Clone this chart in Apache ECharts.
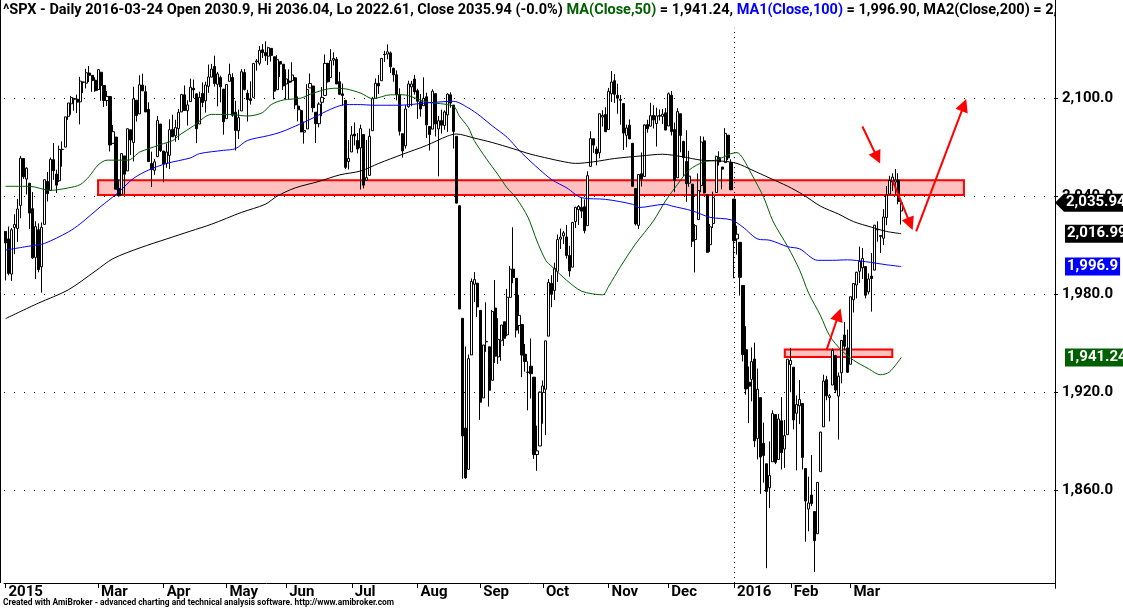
<!DOCTYPE html>
<html>
<head>
<meta charset="utf-8">
<title>^SPX - Daily</title>
<script src="https://cdn.jsdelivr.net/npm/echarts@6/dist/echarts.min.js"></script>
<style>
  html, body { margin: 0; padding: 0; background: #fff; }
  #chart { width: 1123px; height: 609px; }
</style>
</head>
<body>
<div id="chart"></div>
<script>
// trading days on the chart
const dates = [
  '2015-01-14','2015-01-15','2015-01-16','2015-01-20','2015-01-21','2015-01-22','2015-01-23','2015-01-26','2015-01-27','2015-01-28','2015-01-29','2015-01-30',
  '2015-02-02','2015-02-03','2015-02-04','2015-02-05','2015-02-06','2015-02-09','2015-02-10','2015-02-11','2015-02-12','2015-02-13','2015-02-17','2015-02-18','2015-02-19','2015-02-20','2015-02-23','2015-02-24','2015-02-25','2015-02-26','2015-02-27',
  '2015-03-02','2015-03-03','2015-03-04','2015-03-05','2015-03-06','2015-03-09','2015-03-10','2015-03-11','2015-03-12','2015-03-13','2015-03-16','2015-03-17','2015-03-18','2015-03-19','2015-03-20','2015-03-23','2015-03-24','2015-03-25','2015-03-26','2015-03-27','2015-03-30','2015-03-31',
  '2015-04-01','2015-04-02','2015-04-06','2015-04-07','2015-04-08','2015-04-09','2015-04-10','2015-04-13','2015-04-14','2015-04-15','2015-04-16','2015-04-17','2015-04-20','2015-04-21','2015-04-22','2015-04-23','2015-04-24','2015-04-27','2015-04-28','2015-04-29','2015-04-30',
  '2015-05-01','2015-05-04','2015-05-05','2015-05-06','2015-05-07','2015-05-08','2015-05-11','2015-05-12','2015-05-13','2015-05-14','2015-05-15','2015-05-18','2015-05-19','2015-05-20','2015-05-21','2015-05-22','2015-05-26','2015-05-27','2015-05-28','2015-05-29',
  '2015-06-01','2015-06-02','2015-06-03','2015-06-04','2015-06-05','2015-06-08','2015-06-09','2015-06-10','2015-06-11','2015-06-12','2015-06-15','2015-06-16','2015-06-17','2015-06-18','2015-06-19','2015-06-22','2015-06-23','2015-06-24','2015-06-25','2015-06-26','2015-06-29','2015-06-30',
  '2015-07-01','2015-07-02','2015-07-06','2015-07-07','2015-07-08','2015-07-09','2015-07-10','2015-07-13','2015-07-14','2015-07-15','2015-07-16','2015-07-17','2015-07-20','2015-07-21','2015-07-22','2015-07-23','2015-07-24','2015-07-27','2015-07-28','2015-07-29','2015-07-30','2015-07-31',
  '2015-08-03','2015-08-04','2015-08-05','2015-08-06','2015-08-07','2015-08-10','2015-08-11','2015-08-12','2015-08-13','2015-08-14','2015-08-17','2015-08-18','2015-08-19','2015-08-20','2015-08-21','2015-08-24','2015-08-25','2015-08-26','2015-08-27','2015-08-28','2015-08-31',
  '2015-09-01','2015-09-02','2015-09-03','2015-09-04','2015-09-08','2015-09-09','2015-09-10','2015-09-11','2015-09-14','2015-09-15','2015-09-16','2015-09-17','2015-09-18','2015-09-21','2015-09-22','2015-09-23','2015-09-24','2015-09-25','2015-09-28','2015-09-29','2015-09-30',
  '2015-10-01','2015-10-02','2015-10-05','2015-10-06','2015-10-07','2015-10-08','2015-10-09','2015-10-12','2015-10-13','2015-10-14','2015-10-15','2015-10-16','2015-10-19','2015-10-20','2015-10-21','2015-10-22','2015-10-23','2015-10-26','2015-10-27','2015-10-28','2015-10-29','2015-10-30',
  '2015-11-02','2015-11-03','2015-11-04','2015-11-05','2015-11-06','2015-11-09','2015-11-10','2015-11-11','2015-11-12','2015-11-13','2015-11-16','2015-11-17','2015-11-18','2015-11-19','2015-11-20','2015-11-23','2015-11-24','2015-11-25','2015-11-27','2015-11-30',
  '2015-12-01','2015-12-02','2015-12-03','2015-12-04','2015-12-07','2015-12-08','2015-12-09','2015-12-10','2015-12-11','2015-12-14','2015-12-15','2015-12-16','2015-12-17','2015-12-18','2015-12-21','2015-12-22','2015-12-23','2015-12-24','2015-12-28','2015-12-29','2015-12-30','2015-12-31',
  '2016-01-04','2016-01-05','2016-01-06','2016-01-07','2016-01-08','2016-01-11','2016-01-12','2016-01-13','2016-01-14','2016-01-15','2016-01-19','2016-01-20','2016-01-21','2016-01-22','2016-01-25','2016-01-26','2016-01-27','2016-01-28','2016-01-29',
  '2016-02-01','2016-02-02','2016-02-03','2016-02-04','2016-02-05','2016-02-08','2016-02-09','2016-02-10','2016-02-11','2016-02-12','2016-02-16','2016-02-17','2016-02-18','2016-02-19','2016-02-22','2016-02-23','2016-02-24','2016-02-25','2016-02-26','2016-02-29',
  '2016-03-01','2016-03-02','2016-03-03','2016-03-04','2016-03-07','2016-03-08','2016-03-09','2016-03-10','2016-03-11','2016-03-14','2016-03-15','2016-03-16','2016-03-17','2016-03-18','2016-03-21','2016-03-22','2016-03-23','2016-03-24'
];

// [open, high, low, close] for each day above
const ohlc = [
  // Jan 2015
  [2018.4,2018.4,1988.4,2011.3],[2013.8,2021.4,1991.5,1992.7],[1992.3,2020.5,1988.1,2019.4],[2020.8,2028.9,2004.5,2022.6],[2020.2,2038.3,2012.0,2032.1],[2034.3,2064.6,2026.4,2063.2],
  [2063.0,2063.0,2050.5,2051.8],[2050.4,2057.6,2041.0,2057.1],[2047.9,2047.9,2019.9,2029.6],[2032.3,2042.5,2001.5,2002.2],[2002.5,2024.6,1989.2,2021.3],[2019.4,2023.3,1993.4,1995.0],
  // Feb
  [1996.7,2023.9,1980.9,2020.9],[2022.7,2050.3,2022.7,2050.0],[2048.9,2054.7,2036.7,2041.5],[2043.5,2063.6,2043.5,2062.5],[2062.3,2072.4,2050.0,2055.5],[2053.5,2056.2,2041.9,2046.7],
  [2049.4,2070.9,2048.6,2068.6],[2068.6,2073.5,2058.0,2068.5],[2070.0,2088.5,2070.0,2088.5],[2088.8,2097.0,2086.7,2097.0],[2096.5,2101.3,2089.8,2100.3],[2099.2,2100.2,2092.2,2099.7],
  [2099.3,2102.1,2090.8,2097.5],[2097.7,2113.0,2083.9,2110.3],[2109.8,2110.1,2103.0,2109.7],[2109.1,2117.9,2105.9,2115.5],[2115.3,2119.6,2109.9,2113.9],[2113.9,2113.9,2103.8,2110.7],
  [2110.9,2112.7,2103.8,2104.5],
  // Mar
  [2105.2,2117.5,2104.5,2117.4],[2115.8,2115.8,2098.3,2107.8],[2107.7,2107.7,2094.5,2098.5],[2098.5,2104.3,2095.2,2101.0],[2100.9,2100.9,2067.3,2071.3],[2072.3,2083.5,2072.2,2079.4],
  [2076.1,2076.1,2044.2,2044.2],[2044.7,2050.1,2039.7,2040.2],[2041.1,2066.4,2041.1,2066.0],[2064.6,2064.6,2041.2,2053.4],[2055.4,2081.4,2055.4,2081.2],[2080.6,2080.6,2065.1,2074.3],
  [2072.8,2106.9,2061.2,2099.5],[2098.7,2098.7,2085.6,2089.3],[2090.3,2113.9,2090.3,2108.1],[2108.0,2114.9,2104.4,2104.4],[2103.9,2107.6,2091.5,2091.5],[2093.1,2097.4,2061.1,2061.1],
  [2059.9,2067.2,2045.5,2056.2],[2055.8,2062.8,2053.0,2061.0],[2064.1,2089.0,2064.1,2086.2],[2084.1,2084.1,2067.0,2067.9],
  // Apr
  [2067.6,2067.6,2048.4,2059.7],[2060.0,2072.2,2057.3,2067.0],[2064.9,2087.0,2056.5,2080.6],[2080.8,2089.8,2076.1,2076.3],[2076.9,2086.7,2073.3,2081.9],[2081.3,2093.3,2074.3,2091.2],
  [2091.5,2102.6,2091.5,2102.1],[2102.0,2107.7,2092.3,2092.4],[2092.3,2098.6,2083.2,2095.8],[2097.8,2111.9,2097.8,2106.6],[2106.0,2111.3,2100.0,2105.0],[2102.6,2102.6,2072.4,2081.2],
  [2084.1,2103.9,2084.1,2100.4],[2102.8,2109.6,2094.4,2097.3],[2098.3,2110.0,2091.1,2108.0],[2107.2,2120.5,2103.2,2112.9],[2112.8,2120.9,2112.8,2117.7],[2119.3,2125.9,2107.0,2108.9],
  [2108.4,2116.0,2094.9,2114.8],[2112.5,2113.7,2097.4,2106.9],[2105.5,2105.5,2077.6,2085.5],
  // May
  [2087.4,2108.4,2087.4,2108.3],[2110.2,2121.0,2110.2,2114.5],[2112.6,2115.2,2088.5,2089.5],[2091.3,2098.4,2067.9,2080.2],[2080.0,2092.9,2075.0,2088.0],[2092.1,2117.7,2092.1,2116.1],
  [2115.6,2117.7,2104.6,2105.3],[2102.9,2105.1,2085.6,2099.1],[2099.6,2110.2,2096.0,2098.5],[2100.4,2121.5,2100.4,2121.1],[2122.1,2123.9,2116.8,2122.7],[2121.3,2131.8,2120.0,2129.2],
  [2129.5,2133.0,2124.5,2127.8],[2127.8,2134.7,2122.6,2125.9],[2125.6,2131.4,2120.2,2130.8],[2130.4,2130.4,2122.3,2126.1],[2125.3,2125.3,2099.2,2104.2],[2105.1,2126.2,2105.1,2123.5],
  [2122.3,2122.3,2112.9,2120.8],[2120.7,2120.7,2104.9,2107.4],
  // Jun
  [2108.6,2117.6,2099.1,2111.7],[2110.4,2117.6,2099.1,2109.6],[2110.6,2121.9,2109.6,2114.1],[2112.4,2112.9,2093.2,2095.8],[2095.1,2101.0,2085.7,2092.8],[2092.3,2093.0,2079.1,2079.3],
  [2079.1,2085.6,2072.1,2080.2],[2081.1,2108.5,2081.1,2105.2],[2106.2,2115.0,2106.2,2108.9],[2107.4,2107.4,2091.3,2094.1],[2091.3,2091.3,2072.5,2084.4],[2084.3,2097.4,2082.1,2096.3],
  [2097.4,2106.8,2088.9,2100.4],[2101.6,2126.7,2101.6,2121.2],[2121.1,2121.6,2109.5,2110.0],[2112.5,2129.9,2112.5,2122.9],[2123.2,2128.0,2119.9,2124.2],[2123.7,2125.1,2108.6,2108.6],
  [2110.0,2116.0,2101.8,2102.3],[2102.6,2108.9,2095.4,2101.5],[2098.6,2098.6,2056.6,2057.6],[2061.2,2074.3,2056.3,2063.1],
  // Jul
  [2067.0,2082.8,2067.0,2077.4],[2078.0,2085.1,2071.0,2076.8],[2074.0,2078.6,2066.1,2068.8],[2069.5,2083.7,2044.0,2081.3],[2077.7,2077.7,2044.7,2046.7],[2049.7,2074.3,2049.7,2051.3],
  [2052.7,2081.3,2052.7,2076.6],[2080.0,2100.7,2080.0,2099.6],[2099.7,2112.0,2099.7,2109.0],[2109.0,2114.1,2102.5,2107.4],[2110.6,2124.4,2110.6,2124.3],[2126.8,2128.9,2122.1,2126.6],
  [2126.9,2132.8,2123.7,2128.3],[2127.6,2128.5,2115.4,2119.2],[2118.2,2118.5,2110.0,2114.2],[2114.2,2116.9,2098.6,2102.2],[2102.2,2106.0,2077.1,2079.7],[2078.2,2078.2,2063.5,2067.6],
  [2070.8,2095.6,2069.1,2093.3],[2094.7,2110.6,2094.1,2108.6],[2106.8,2110.5,2095.0,2108.6],[2111.6,2114.2,2102.1,2103.8],
  // Aug
  [2104.5,2105.7,2087.3,2098.0],[2097.7,2102.5,2088.6,2093.3],[2095.3,2112.7,2095.3,2099.8],[2100.8,2103.3,2075.5,2083.6],[2082.6,2082.6,2067.9,2077.6],[2081.0,2105.4,2081.0,2104.2],
  [2102.7,2102.7,2076.5,2084.1],[2081.1,2089.1,2052.1,2086.1],[2086.2,2092.9,2078.3,2083.4],[2083.2,2092.5,2080.6,2091.5],[2089.7,2102.9,2079.3,2102.4],[2102.0,2103.5,2094.1,2096.9],
  [2095.7,2095.7,2069.1,2079.6],[2076.6,2076.6,2035.7,2035.7],[2034.1,2034.1,1970.9,1970.9],[1965.2,1965.2,1867.0,1893.2],[1898.1,1948.0,1867.1,1867.6],[1872.8,1943.1,1872.8,1940.5],
  [1942.8,1989.6,1942.8,1987.7],[1986.1,1993.5,1975.2,1988.9],[1986.7,1986.7,1966.0,1972.2],
  // Sep
  [1970.1,1970.1,1903.1,1913.9],[1916.5,1948.9,1916.5,1948.9],[1950.8,1975.0,1944.7,1951.1],[1947.8,1947.8,1911.2,1921.2],[1927.3,1970.4,1927.3,1969.4],[1971.5,1988.6,1937.9,1942.0],
  [1941.6,1965.3,1937.2,1952.3],[1951.5,1961.1,1939.2,1961.1],[1963.1,1963.1,1948.3,1953.0],[1955.1,1983.2,1954.3,1978.1],[1978.0,1997.3,1977.9,1995.3],[1995.3,2020.9,1986.7,1990.2],
  [1989.7,1989.7,1953.5,1958.0],[1960.8,1979.6,1955.8,1967.0],[1961.4,1961.4,1929.2,1942.7],[1943.2,1949.5,1932.6,1938.8],[1932.2,1938.9,1908.9,1932.2],[1935.9,1952.9,1916.2,1931.3],
  [1929.2,1929.2,1879.2,1881.8],[1881.9,1899.5,1871.9,1884.1],[1887.1,1920.5,1887.1,1920.0],
  // Oct
  [1919.7,1927.2,1900.7,1923.8],[1921.8,1951.4,1893.7,1951.4],[1954.3,1989.2,1954.3,1987.1],[1986.6,1991.6,1972.0,1979.9],[1982.3,1999.3,1976.4,1995.8],[1994.0,2016.5,1987.5,2013.4],
  [2013.7,2020.1,2007.6,2014.9],[2015.7,2018.7,2010.6,2017.5],[2015.0,2022.3,2001.8,2003.7],[2003.7,2009.6,1990.7,1994.2],[1996.5,2024.2,1996.5,2023.9],[2024.4,2033.5,2020.5,2033.1],
  [2031.7,2034.5,2022.3,2033.7],[2033.1,2039.1,2026.6,2030.8],[2033.5,2038.0,2017.2,2018.9],[2021.9,2055.2,2021.9,2052.5],[2058.2,2079.7,2058.2,2075.2],[2075.1,2075.1,2066.5,2071.2],
  [2068.8,2070.4,2058.8,2065.9],[2066.5,2090.4,2063.1,2090.4],[2088.4,2092.5,2082.6,2089.4],[2090.0,2094.3,2079.3,2079.4],
  // Nov
  [2080.8,2106.2,2080.8,2104.1],[2102.6,2116.5,2097.5,2109.8],[2110.6,2114.6,2097.0,2102.3],[2101.7,2108.8,2090.4,2099.9],[2098.6,2101.9,2083.7,2099.2],[2096.6,2096.6,2068.2,2078.6],
  [2077.2,2083.7,2069.9,2081.7],[2083.4,2086.9,2074.9,2075.0],[2072.3,2072.3,2045.7,2046.0],[2044.6,2044.6,2022.0,2023.0],[2022.1,2053.2,2019.9,2053.2],[2053.7,2066.7,2045.9,2050.4],
  [2052.0,2083.3,2052.0,2083.6],[2083.7,2086.7,2078.8,2081.2],[2082.8,2097.1,2082.8,2089.2],[2089.4,2095.6,2081.4,2086.6],[2084.4,2094.1,2070.3,2089.1],[2089.3,2093.0,2086.3,2088.9],
  [2088.8,2093.3,2084.1,2090.1],[2091.0,2093.8,2080.4,2080.4],
  // Dec
  [2082.9,2103.4,2082.9,2102.6],[2101.7,2104.3,2077.1,2079.5],[2080.7,2085.0,2042.4,2049.6],[2051.2,2093.8,2051.2,2091.7],[2090.4,2090.4,2066.8,2077.1],[2073.4,2073.9,2052.3,2063.6],
  [2061.2,2080.3,2036.5,2047.6],[2047.9,2067.7,2045.7,2052.2],[2047.3,2047.3,2008.8,2012.4],[2013.4,2022.9,1993.3,2021.9],[2025.6,2053.9,2025.6,2043.4],[2046.5,2076.7,2042.4,2073.1],
  [2073.8,2076.4,2041.7,2041.9],[2040.8,2040.8,2005.3,2005.6],[2010.3,2022.9,2005.9,2021.2],[2023.2,2042.7,2020.5,2039.0],[2042.2,2064.7,2042.2,2064.3],[2063.5,2067.4,2058.7,2061.0],
  [2057.8,2057.8,2044.2,2056.5],[2060.5,2081.6,2060.5,2078.4],[2077.3,2077.3,2062.0,2063.4],[2060.6,2062.5,2043.6,2043.9],
  // Jan 2016
  [2038.2,2038.2,1989.7,2012.7],[2013.8,2021.9,2004.2,2016.7],[2011.7,2011.7,1979.1,1990.3],[1985.3,1985.3,1938.8,1943.1],[1946.0,1960.4,1918.5,1922.0],[1926.1,1935.7,1901.1,1923.7],
  [1927.8,1947.4,1914.4,1938.7],[1940.3,1950.3,1886.4,1890.3],[1891.7,1934.5,1878.9,1921.8],[1916.7,1916.7,1857.8,1880.3],[1888.7,1901.4,1864.6,1881.3],[1876.2,1876.2,1812.3,1859.3],
  [1861.5,1889.9,1849.0,1869.0],[1877.4,1908.9,1877.4,1906.9],[1906.3,1906.3,1876.0,1877.1],[1878.8,1906.7,1878.8,1903.6],[1902.5,1917.0,1872.7,1883.0],[1885.2,1903.0,1873.7,1893.4],
  [1894.0,1940.2,1894.0,1940.2],
  // Feb 2016
  [1936.9,1947.2,1920.0,1939.4],[1935.3,1935.3,1897.3,1903.0],[1907.1,1918.0,1872.2,1912.5],[1911.7,1927.4,1900.5,1915.5],[1913.1,1913.1,1872.7,1880.1],[1873.3,1873.3,1828.5,1853.4],
  [1848.5,1868.3,1834.9,1852.2],[1857.1,1881.6,1850.3,1851.9],[1847.0,1847.0,1810.1,1829.1],[1833.4,1864.8,1833.4,1864.8],[1871.4,1895.8,1871.4,1895.6],[1898.8,1930.7,1898.8,1926.8],
  [1927.6,1930.0,1915.1,1917.8],[1916.7,1918.8,1902.2,1917.8],[1924.4,1946.7,1924.4,1945.5],[1942.4,1942.4,1919.4,1921.3],[1917.6,1932.1,1891.0,1929.8],[1931.9,1951.8,1925.4,1951.7],
  [1955.0,1963.0,1945.8,1948.1],[1947.1,1958.3,1931.8,1932.2],
  // Mar 2016
  [1937.1,1978.4,1937.1,1978.4],[1976.6,1986.5,1968.8,1986.5],[1985.6,1993.7,1977.4,1993.4],[1994.0,2009.1,1986.8,2000.0],[1996.1,2008.2,1989.3,2001.8],[1996.9,1996.9,1977.4,1979.3],
  [1981.4,1992.7,1979.8,1989.3],[1991.0,2005.1,1969.3,1989.6],[1994.7,2022.4,1994.7,2022.2],[2019.3,2024.6,2012.1,2019.6],[2015.3,2015.9,2005.2,2015.9],[2014.2,2032.0,2010.0,2027.2],
  [2026.9,2046.2,2022.2,2040.6],[2041.2,2052.4,2041.2,2049.6],[2048.6,2053.9,2043.1,2051.6],[2048.6,2056.6,2040.6,2049.8],[2049.8,2054.0,2035.0,2036.71],[2030.9,2036.04,2022.61,2035.94]
];

// moving averages, [date, value]
const ma50 = [
  ['2015-01-14',2046],['2015-01-27',2046],['2015-02-05',2043.5],['2015-02-13',2045],['2015-02-20',2047],['2015-02-25',2052],
  ['2015-03-02',2059],['2015-03-05',2062],['2015-03-16',2062],['2015-03-20',2067],['2015-03-25',2069],['2015-03-31',2071.6],
  ['2015-04-07',2074],['2015-04-09',2077],['2015-04-16',2083],['2015-04-24',2090],['2015-05-04',2090],['2015-05-12',2089],
  ['2015-05-19',2091],['2015-05-22',2096],['2015-05-29',2098.8],['2015-06-08',2100],['2015-06-12',2103],['2015-06-23',2106],
  ['2015-06-29',2105.6],['2015-07-07',2103],['2015-07-13',2099.6],['2015-07-21',2102],['2015-07-27',2102],['2015-08-06',2097.6],
  ['2015-08-19',2095],['2015-08-21',2089],['2015-08-26',2082],['2015-08-28',2074],['2015-09-03',2063],['2015-09-10',2053],
  ['2015-09-15',2045],['2015-09-18',2039],['2015-09-24',2027],['2015-09-29',2012.5],['2015-10-02',2000.5],['2015-10-06',1996.9],
  ['2015-10-13',1988.4],['2015-10-20',1981.8],['2015-10-29',1979.6],['2015-11-02',1984.8],['2015-11-06',1996.9],['2015-11-13',2010.7],
  ['2015-11-23',2024.8],['2015-11-30',2036.9],['2015-12-04',2047],['2015-12-10',2056],['2015-12-17',2061],['2015-12-23',2062],
  ['2015-12-31',2066],['2016-01-05',2066.6],['2016-01-07',2063],['2016-01-12',2053],['2016-01-19',2039],['2016-01-22',2024.8],
  ['2016-01-29',2009],['2016-02-04',1994.6],['2016-02-09',1980.6],['2016-02-16',1966.7],['2016-02-19',1954.6],['2016-02-25',1945.6],
  ['2016-03-02',1939.6],['2016-03-09',1934.4],['2016-03-15',1930.7],['2016-03-18',1932.3],['2016-03-24',1941.24]
];
const ma100 = [
  ['2015-01-14',2007],['2015-01-28',2009.7],['2015-02-03',2011],['2015-02-13',2018],['2015-02-20',2023],['2015-03-03',2033.8],
  ['2015-03-10',2041],['2015-03-18',2051],['2015-03-25',2056],['2015-04-02',2060],['2015-04-15',2063.4],['2015-04-20',2066],
  ['2015-04-30',2068],['2015-05-06',2069],['2015-05-12',2074],['2015-05-21',2077],['2015-05-28',2079],['2015-06-03',2082],
  ['2015-06-10',2086],['2015-06-16',2089.7],['2015-06-23',2094],['2015-06-29',2096],['2015-07-07',2096],['2015-07-13',2095.6],
  ['2015-07-24',2095.6],['2015-08-06',2097],['2015-08-19',2098],['2015-08-26',2094],['2015-09-01',2089],['2015-09-08',2083],
  ['2015-09-15',2076],['2015-09-21',2068],['2015-09-25',2061],['2015-09-30',2056],['2015-10-06',2050],['2015-10-13',2045],
  ['2015-10-20',2039],['2015-10-30',2038],['2015-11-12',2035],['2015-11-16',2033],['2015-11-30',2035],['2015-12-02',2034],
  ['2015-12-11',2031],['2015-12-21',2027],['2015-12-31',2025.5],['2016-01-07',2021],['2016-01-14',2013.7],['2016-01-21',2013],
  ['2016-01-29',2009],['2016-02-04',2007.7],['2016-02-12',2000.7],['2016-02-22',2000.7],['2016-02-29',2001],['2016-03-08',1999.9],
  ['2016-03-17',1998],['2016-03-24',1996.9]
];
const ma200 = [
  ['2015-01-14',1965],['2015-01-30',1974.5],['2015-02-13',1982.6],['2015-02-27',1994],['2015-03-09',2001.7],['2015-03-20',2008.3],
  ['2015-04-02',2013.8],['2015-04-15',2018.6],['2015-04-24',2022.8],['2015-05-08',2030],['2015-05-20',2035],['2015-05-27',2040],
  ['2015-06-04',2045],['2015-06-16',2049],['2015-06-25',2053],['2015-07-07',2055.4],['2015-07-15',2060],['2015-07-27',2065.6],
  ['2015-08-06',2071],['2015-08-17',2076.7],['2015-08-20',2078],['2015-08-28',2075.5],['2015-09-08',2072.8],['2015-09-17',2069],
  ['2015-09-25',2065.6],['2015-10-05',2063],['2015-10-09',2061.4],['2015-10-16',2060],['2015-10-26',2061],['2015-11-04',2063],
  ['2015-11-17',2064.6],['2015-11-27',2065.6],['2015-12-08',2064],['2015-12-16',2062],['2015-12-28',2061.4],['2016-01-05',2060],
  ['2016-01-12',2056],['2016-01-21',2051],['2016-01-29',2046],['2016-02-05',2041],['2016-02-16',2033.8],['2016-02-24',2029],
  ['2016-03-02',2024.4],['2016-03-10',2021],['2016-03-17',2018.4],['2016-03-24',2016.99]
];

const monthNames = ['Jan','Feb','Mar','Apr','May','Jun','Jul','Aug','Sep','Oct','Nov','Dec'];

// drawn annotations (category index, price)
const zones = [[31, 321, 2040.6, 2049.7], [261, 297, 1941.5, 1946.1]];
const arrows = [
  [[287, 2082.6], [292, 2063.5]],
  [[297, 2050.0], [303, 2023.0]],
  [[305, 2018.4], [321, 2095.7]],
  [[275, 1945.9], [279, 1967.4]]
];
const yearStart = 244;

const FONT = 'Roboto, "DejaVu Sans", sans-serif';
const GREEN = '#005f00';
const BLUE = '#0000ff';

// empty slots to the right of the last bar
const categories = dates.slice();
for (let i = 1; i <= 51; i++) categories.push('pad' + i);

// month starts that get a label (a label too close to the previous one is skipped)
const labelSet = {};
let lastLabel = -100;
dates.forEach((d, i) => {
  const start = i === 0 || d.slice(0, 7) !== dates[i - 1].slice(0, 7);
  if (start && i - lastLabel >= 15) {
    labelSet[i] = true;
    lastLabel = i;
  }
});
const isLabelled = index => !!labelSet[index];

function monthLabel(value, index) {
  if (value.indexOf('pad') === 0) return '';
  const m = +value.slice(5, 7);
  if (m === 1 || index === 0) return value.slice(0, 4);
  return monthNames[m - 1];
}

const candleData = ohlc.map(r => [r[0], r[3], r[2], r[1]]);

const chart = echarts.init(document.getElementById('chart'));

const option = {
  animation: false,
  backgroundColor: '#fff',
  grid: { left: 4, right: 68, top: -6.9, bottom: 20.7 },
  xAxis: {
    type: 'category',
    data: categories,
    boundaryGap: true,
    offset: -5.3,
    axisLine: { lineStyle: { color: '#000', width: 1 } },
    axisTick: { show: true, interval: isLabelled, alignWithLabel: true, length: 5, lineStyle: { color: '#000' } },
    axisLabel: {
      interval: isLabelled,
      formatter: monthLabel,
      align: 'left',
      padding: [0, 0, 0, 3],
      margin: 2,
      color: '#000',
      fontFamily: FONT,
      fontWeight: 'bold',
      fontSize: 15
    },
    splitLine: { show: false }
  },
  yAxis: {
    type: 'value',
    position: 'right',
    min: 1800,
    max: 2160,
    interval: 60,
    axisLine: { show: true, lineStyle: { color: '#000', width: 1 } },
    axisTick: { show: true, length: 3, lineStyle: { color: '#000' } },
    axisLabel: {
      showMinLabel: false,
      showMaxLabel: false,
      margin: 7,
      color: '#000',
      fontFamily: FONT,
      fontWeight: 'bold',
      fontSize: 15,
      formatter: v => v.toLocaleString('en-US', { minimumFractionDigits: 1, maximumFractionDigits: 1 })
    },
    splitLine: {
      show: true,
      showMinLine: false,
      showMaxLine: false,
      lineStyle: { color: '#000', width: 1, type: [1, 9] }
    }
  },
  series: [
    {
      name: '^SPX',
      type: 'candlestick',
      data: candleData,
      barWidth: 2.6,
      itemStyle: {
        color: '#ffffff',
        color0: '#000000',
        borderColor: '#000000',
        borderColor0: '#000000',
        borderWidth: 1
      },
      markArea: {
        silent: true,
        itemStyle: { color: '#ffc0c0', borderColor: '#ff0000', borderWidth: 2 },
        data: zones.map(z => [{ coord: [z[0], z[3]] }, { coord: [z[1], z[2]] }])
      },
      markLine: {
        silent: true,
        animation: false,
        label: { show: false },
        data: [
          [
            { coord: [yearStart, 1803.2], symbol: 'none', lineStyle: { color: '#000', width: 1, type: [1, 4] } },
            { coord: [yearStart, 2143], symbol: 'none' }
          ]
        ].concat(arrows.map(a => [
          { coord: a[0], symbol: 'none', lineStyle: { color: '#ff0000', width: 2, type: 'solid' } },
          { coord: a[1], symbol: 'triangle', symbolSize: 13 }
        ]))
      }
    },
    {
      name: 'MA(Close,50)', type: 'line', data: ma50, symbol: 'none', smooth: 0.3,
      lineStyle: { color: GREEN, width: 1 }, z: 3
    },
    {
      name: 'MA1(Close,100)', type: 'line', data: ma100, symbol: 'none', smooth: 0.3,
      lineStyle: { color: BLUE, width: 1 }, z: 3
    },
    {
      name: 'MA2(Close,200)', type: 'line', data: ma200, symbol: 'none', smooth: 0.3,
      lineStyle: { color: '#000', width: 1 }, z: 3
    }
  ]
};

chart.setOption(option);

// header, footer and value tags
const last = ohlc[ohlc.length - 1];
const prevClose = ohlc[ohlc.length - 2][3];
const chg = ((last[3] - prevClose) / prevClose * 100).toFixed(1);
const fmt2 = v => v.toLocaleString('en-US', { minimumFractionDigits: 2, maximumFractionDigits: 2 });
const fmtTag = v => v.toLocaleString('en-US', { maximumFractionDigits: 2 });
const m50 = ma50[ma50.length - 1][1];
const m100 = ma100[ma100.length - 1][1];
const m200 = ma200[ma200.length - 1][1];

const header = '{k|^SPX - Daily ' + dates[dates.length - 1] + ' Open ' + last[0] + ', Hi ' + last[1] +
  ', Lo ' + last[2] + ', Close ' + last[3] + ' (' + chg + '%) }' +
  '{g|MA(Close,50)}{k| = ' + fmt2(m50) + ', }' +
  '{b|MA1(Close,100)}{k| = ' + fmt2(m100) + ', MA2(Close,200) = ' + fmt2(m200) + '}';

function tag(value, color, arrow) {
  const y = chart.convertToPixel({ yAxisIndex: 0 }, value);
  const out = [];
  if (arrow) {
    out.push({
      type: 'polygon', z: 100,
      shape: { points: [[1055, y], [1064, y - 9], [1125, y - 9], [1125, y + 9], [1064, y + 9]] },
      style: { fill: color }
    });
  }
  out.push({
    type: 'text', z: 101, x: arrow ? 1064 : 1065, y: y,
    style: {
      text: fmtTag(value), fill: '#fff', font: 'bold 15px ' + FONT, verticalAlign: 'middle',
      backgroundColor: arrow ? 'transparent' : color, padding: [2, 2, 1, 2]
    }
  });
  return out;
}

const HFONT = 'bold 14.5px ' + FONT;
const graphics = [
  { type: 'line', z: 50, shape: { x1: 0.5, y1: 0, x2: 0.5, y2: 583 }, style: { stroke: '#000', lineWidth: 1 } },
  {
    type: 'text', z: 60, x: 3, y: 3,
    style: {
      text: header, font: HFONT, verticalAlign: 'top',
      rich: {
        k: { fill: '#000', font: HFONT },
        g: { fill: GREEN, font: HFONT },
        b: { fill: BLUE, font: HFONT }
      }
    }
  },
  // header is cut off at the price scale
  { type: 'rect', z: 61, shape: { x: 1056, y: 0, width: 70, height: 22 }, style: { fill: '#fff' } },
  {
    type: 'text', z: 60, x: 3, y: 599,
    style: {
      text: 'Created with AmiBroker - advanced charting and technical analysis software. http://www.amibroker.com',
      fill: '#000', font: 'bold 8.4px ' + FONT, verticalAlign: 'top'
    }
  }
].concat(
  tag(last[3], '#000', true),
  tag(m200, '#000', false),
  tag(m100, BLUE, false),
  tag(m50, GREEN, false)
);

chart.setOption({ graphic: graphics });

window.addEventListener('resize', () => chart.resize());
</script>
</body>
</html>
